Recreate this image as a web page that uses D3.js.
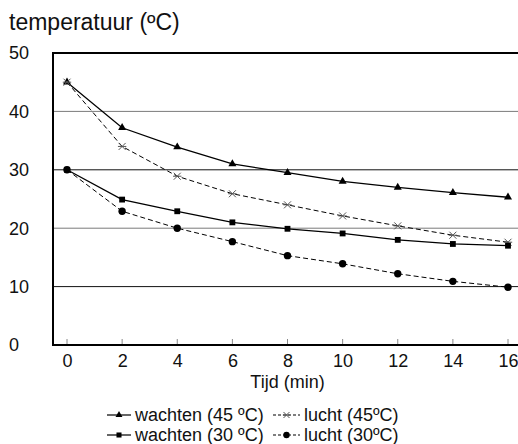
<!DOCTYPE html>
<html>
<head>
<meta charset="utf-8">
<script src="https://cdn.jsdelivr.net/npm/d3@7"></script>
<style>
  body { margin: 0; background: #fff; }
  svg text { font-family: "Liberation Sans", Arial, Helvetica, sans-serif; fill: #111; }
</style>
</head>
<body>
<div id="chart"></div>
<script>
// tijd in minuten
var minuten = [0, 2, 4, 6, 8, 10, 12, 14, 16];
var wachten45 = [45, 37.2, 33.9, 31.0, 29.5, 28.0, 27.0, 26.1, 25.3];
var lucht45 = [45, 34.0, 28.9, 25.9, 24.0, 22.1, 20.4, 18.8, 17.6];
var wachten30 = [30, 24.9, 22.9, 21.0, 19.9, 19.1, 18.0, 17.3, 17.0];
var lucht30 = [30, 22.9, 20.0, 17.7, 15.3, 13.9, 12.2, 10.9, 9.9];
var yTicks = [0, 10, 20, 30, 40, 50];
var reeksNamen = ["wachten (45 ºC)", "lucht (45ºC)", "wachten (30 ºC)", "lucht (30ºC)"];

var W = 518, H = 444;
var margin = {top: 53, left: 53, bottom: 99, right: -2};
var width = W - margin.left - margin.right;
var height = H - margin.top - margin.bottom;

var svg = d3.select("#chart").append("svg")
  .attr("width", W).attr("height", H);

var x = d3.scaleLinear().domain([0, 16]).range([67 - margin.left, 508 - margin.left]);
var y = d3.scaleLinear().domain([0, 50]).range([height, 0]);

var g = svg.append("g").attr("transform", "translate(" + margin.left + "," + margin.top + ")");

// titel
svg.append("text").attr("x", 9).attr("y", 30)
  .style("font-size", "23px").text("temperatuur (ºC)");

// rasterlijnen
g.selectAll(".grid").data([10, 20, 30, 40]).enter().append("line")
  .attr("x1", 0).attr("x2", width)
  .attr("y1", function(d) { return y(d); }).attr("y2", function(d) { return y(d); })
  .attr("stroke", function(d) { return d % 20 === 0 ? "#7a7a7a" : "#111"; })
  .attr("stroke-width", 1);

// y-labels (links uitgelijnd)
svg.selectAll(".ylab").data(yTicks).enter().append("text")
  .attr("x", 9).attr("y", function(d) { return margin.top + y(d); })
  .attr("dy", "0.35em").style("font-size", "18px")
  .text(function(d) { return d; });

// x-as
var xAxis = g.append("g").attr("transform", "translate(0," + height + ")")
  .call(d3.axisBottom(x).tickValues(minuten).tickSize(0).tickPadding(9));
xAxis.select(".domain").remove();
xAxis.selectAll("text").style("font-size", "18px").attr("fill", "#111");
// kleine streepjes omhoog
g.selectAll(".tick-up").data(minuten).enter().append("line")
  .attr("x1", function(d) { return x(d); }).attr("x2", function(d) { return x(d); })
  .attr("y1", height).attr("y2", height - 6)
  .attr("stroke", "#888").attr("stroke-width", 1);

// kader
g.append("path")
  .attr("d", "M" + width + ",0H0V" + height + "H" + width)
  .attr("fill", "none").attr("stroke", "#000").attr("stroke-width", 2);

svg.append("text").attr("x", margin.left + x(8)).attr("y", 388)
  .attr("text-anchor", "middle").style("font-size", "18px").text("Tijd (min)");

var reeksen = [
  {naam: reeksNamen[0], waarden: wachten45, dash: null, marker: "triangle"},
  {naam: reeksNamen[1], waarden: lucht45, dash: "5,3", marker: "star"},
  {naam: reeksNamen[2], waarden: wachten30, dash: null, marker: "square"},
  {naam: reeksNamen[3], waarden: lucht30, dash: "5,3", marker: "circle"}
];

function tekenMarker(sel, soort, k) {
  k = k || 1;
  if (soort === "triangle") {
    sel.append("path").attr("d", d3.symbol(d3.symbolTriangle, 28 * k)()).attr("fill", "#000");
  } else if (soort === "square") {
    sel.append("path").attr("d", d3.symbol(d3.symbolSquare, 34 * k)()).attr("fill", "#000");
  } else if (soort === "circle") {
    sel.append("circle").attr("r", 3.7 * Math.sqrt(k)).attr("fill", "#000");
  } else {
    var s = 3.5 * Math.sqrt(k);
    sel.append("path").attr("d", "M" + -s + "," + -s + "L" + s + "," + s + "M" + -s + "," + s + "L" + s + "," + -s + "M" + -s * 1.2 + ",0H" + s * 1.2)
      .attr("stroke", "#555").attr("stroke-width", 1).attr("fill", "none");
  }
}

var lijn = d3.line()
  .x(function(d, i) { return x(minuten[i]); })
  .y(function(d) { return y(d); });

reeksen.forEach(function(r) {
  g.append("path").datum(r.waarden)
    .attr("d", lijn).attr("fill", "none")
    .attr("stroke", "#000").attr("stroke-width", r.dash ? 1 : 1.3)
    .attr("stroke-dasharray", r.dash);
  r.waarden.forEach(function(v, i) {
    var m = g.append("g").attr("transform", "translate(" + x(minuten[i]) + "," + y(v) + ")");
    tekenMarker(m, r.marker);
  });
});

// legenda
var legPos = [[107, 415], [273, 415], [107, 435], [273, 435]];
reeksen.forEach(function(r, i) {
  var lg = svg.append("g").attr("transform", "translate(" + legPos[i][0] + "," + legPos[i][1] + ")");
  lg.append("line").attr("x1", 0).attr("x2", r.dash ? 27 : 24).attr("y1", 0).attr("y2", 0)
    .attr("stroke", "#000").attr("stroke-width", 1.2)
    .attr("stroke-dasharray", r.dash ? "3,2" : null);
  var m = lg.append("g").attr("transform", "translate(" + (r.dash ? 13.5 : 12) + ",0)");
  tekenMarker(m, r.marker, 0.75);
  lg.append("text").attr("x", r.dash ? 31 : 28).attr("y", 0).attr("dy", "0.35em")
    .style("font-size", "18px").text(r.naam);
});
</script>
</body>
</html>
